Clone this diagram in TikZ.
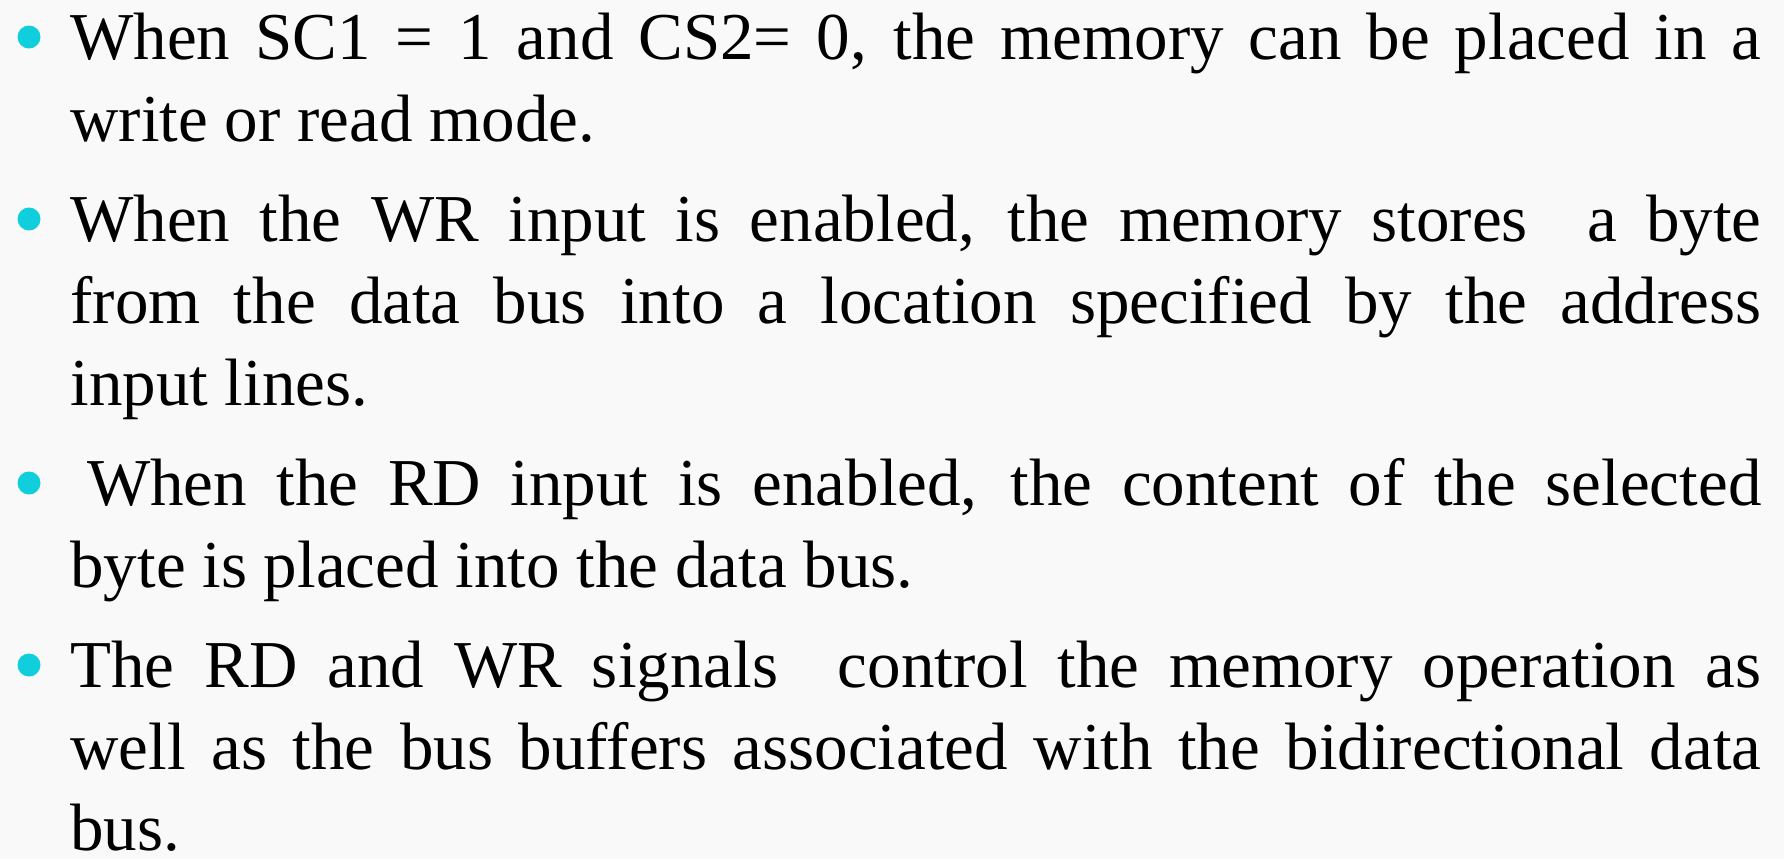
\documentclass[tikz,border=0pt]{standalone}
\usepackage{fontspec}
\setmainfont{Liberation Serif}
\usepackage{xcolor}
\usepackage{tikz}
\definecolor{ciano}{RGB}{17,206,220}
\definecolor{fundo}{RGB}{249,249,249}
\newcommand{\texto}{\fontsize{33.5pt}{41pt}\selectfont}
\newcommand{\cheia}[1]{\makebox[845.5pt][s]{#1}}
\tikzset{
  linha/.style={anchor=base west, inner sep=0pt, font=\texto},
  ponto/.style={circle, fill=ciano, minimum size=11.5pt, inner sep=0pt},
}

\begin{document}
\begin{tikzpicture}[x=0.5pt, y=0.5pt]
  \fill[fundo] (0,0) rectangle (1784,-859);
  \useasboundingbox (0,0) rectangle (1784,-859);
  % bullets
  \node[ponto] (p1) at (29,-37) {};
  \node[ponto] (p2) at (29,-219) {};
  \node[ponto] (p3) at (29,-483) {};
  \node[ponto] (p4) at (29,-665) {};
  % text lines
  \node[linha] (l1) at (70,-59) {\cheia{When SC1 = 1 and CS2= 0, the memory can be placed in a}};
  \node[linha] (l2) at (70,-141) {write or read mode.};
  \node[linha] (l3) at (70,-241) {\cheia{When the WR input is enabled, the memory stores\ \ a byte}};
  \node[linha] (l4) at (70,-323) {\cheia{from the data bus into a location specified by the address}};
  \node[linha] (l5) at (70,-405) {input lines.};
  \node[linha] (l6) at (70,-505) {\cheia{\hspace*{0.25em}When the RD input is enabled, the content of the selected}};
  \node[linha] (l7) at (70,-587) {byte is placed into the data bus.};
  \node[linha] (l8) at (70,-687) {\cheia{The RD and WR signals\ \ control the memory operation as}};
  \node[linha] (l9) at (70,-769) {\cheia{well as the bus buffers associated with the bidirectional data}};
  \node[linha] (l10) at (70,-850) {bus.};
\end{tikzpicture}
\end{document}
